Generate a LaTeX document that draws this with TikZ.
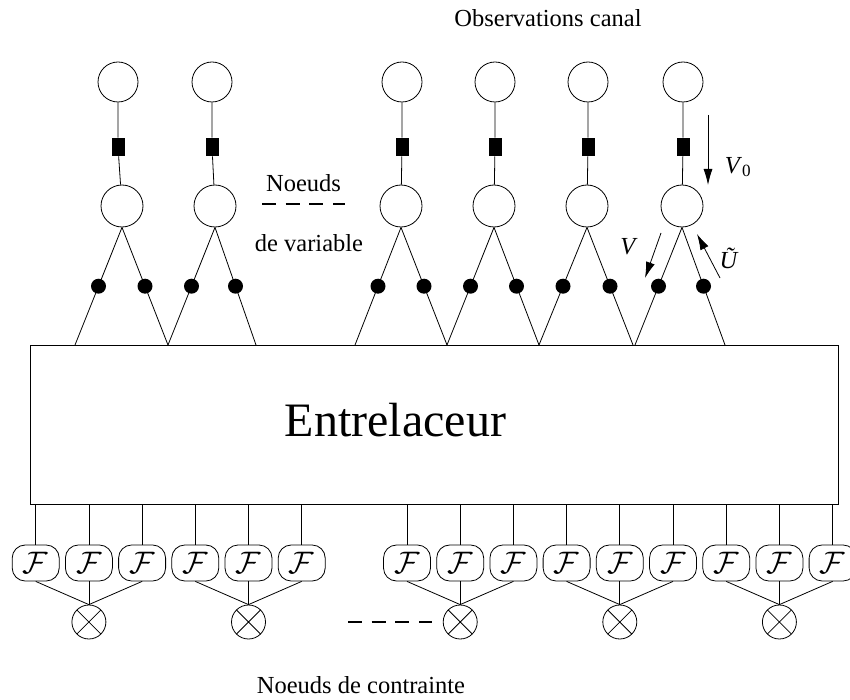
\documentclass[tikz,border=0pt]{standalone}
\usepackage{fontspec}
\setmainfont{Liberation Serif}
\usetikzlibrary{arrows.meta}
\begin{document}
\begin{tikzpicture}[x=1pt,y=-1pt,line width=0.8pt,
  obs/.style={circle,draw,minimum size=40pt,inner sep=0},
  var/.style={circle,draw,minimum size=42pt,inner sep=0},
  sq/.style={rectangle,fill=black,minimum width=13pt,minimum height=18pt,inner sep=0},
  dotn/.style={circle,fill=black,minimum size=15pt,inner sep=0},
  fnode/.style={draw,rounded corners=13pt,minimum width=47pt,minimum height=36pt,inner sep=0,font=\fontsize{24.88}{30}\selectfont},
  otn/.style={circle,draw,minimum size=34pt,inner sep=0,
    path picture={\draw (path picture bounding box.north west) -- (path picture bounding box.south east)
                        (path picture bounding box.north east) -- (path picture bounding box.south west);}},
  lbl/.style={font=\fontsize{24.5}{29}\selectfont,inner sep=0},
  arr/.style={-{Latex[length=16pt,width=9pt]}},
  dsh/.style={line width=1.6pt,dash pattern=on 14pt off 9.7pt}
]
\path[use as bounding box] (0,0) rectangle (850,700);
\clip (0,0) rectangle (850,700);

% interleaver box
\node[draw,line width=1pt,minimum width=808pt,minimum height=159pt,inner sep=0] (box) at (434,424.5) {};
\node[font=\fontsize{48}{56}\selectfont,inner sep=0] (ent) at (395.5,420.5) {Entrelaceur};

% variable columns
\foreach \i/\xo/\xv in {1/118/122,2/212/215,3/402/401,4/495/494,5/588/587,6/683/682}{
  \node[obs] (o\i) at (\xo,82) {};
  \node[var] (v\i) at (\xv,206) {};
  \node[sq] (s\i) at (\xo,147) {};
  \draw (o\i) -- (s\i) -- (v\i);
}

% leg end points on the interleaver
\foreach \j/\x in {1/75,2/168,3/256,4/355,5/447,6/539,7/633,8/635,9/725}{
  \coordinate (t\j) at (\x,345);
}

% legs with dots
\foreach \i/\l/\r in {1/1/2,2/2/3,3/4/5,4/5/6,5/6/7,6/8/9}{
  \draw (v\i.south) -- (t\l) node[dotn,pos=0.5] (dl\i) {};
  \draw (v\i.south) -- (t\r) node[dotn,pos=0.5] (dr\i) {};
}

% check function nodes
\foreach \k/\x in {1/35.7,2/88.9,3/142.1,4/195.3,5/248.5,6/301.7,7/407,8/460.2,9/513.4,10/566.6,11/619.8,12/673,13/726.2,14/779.4,15/832.6}{
  \node[fnode] (f\k) at (\x,563) {\scalebox{1.25}{$\mathcal{F}$}\hspace{14pt}};
  \draw (f\k.north |- box.south) -- (f\k.north);
}

% constraint nodes
\foreach \c/\a/\b/\d in {1/1/2/3,2/4/5/6,3/7/8/9,4/10/11/12,5/13/14/15}{
  \node[otn] (c\c) at (f\b.south |- 0,622) {};
  \draw (f\a.south) -- (c\c.north);
  \draw (f\b.south) -- (c\c.north);
  \draw (f\d.south) -- (c\c.north);
}

% messages
\coordinate (a0s) at (708,115); \coordinate (a0e) at (708,185);
\draw[arr] (a0s) -- (a0e);
\node[lbl] (lv0) at (738,167) {\textit{V}\textsubscript{0}};
\coordinate (avs) at (661,233); \coordinate (ave) at (645,278);
\draw[arr] (avs) -- (ave);
\node[lbl] (lv) at (629,247) {\textit{V}};
\coordinate (aus) at (720,278); \coordinate (aue) at (697,234);
\draw[arr] (aus) -- (aue);
\node[lbl] (lu) at (729,258) {\textit{Ũ}};

% labels
\node[lbl] (obst) at (548,18.5) {Observations canal};
\node[lbl] (nv1) at (303.5,183.5) {Noeuds};
\coordinate (dv1) at (262,204); \coordinate (dv2) at (345,204);
\draw[dsh] (dv1) -- (dv2);
\node[lbl] (nv2) at (309,243.5) {de variable};
\coordinate (dc1) at (348,622); \coordinate (dc2) at (432,622);
\draw[dsh] (dc1) -- (dc2);
\node[lbl] (nc) at (361,685) {Noeuds de contrainte};
\end{tikzpicture}
\end{document}
